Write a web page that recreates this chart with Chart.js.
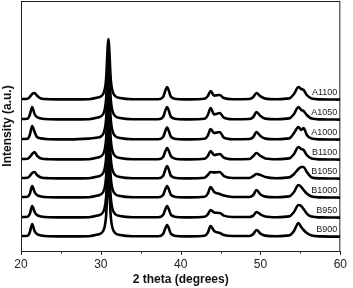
<!DOCTYPE html>
<html>
<head>
<meta charset="utf-8">
<script src="https://cdn.jsdelivr.net/npm/chart.js@4"></script>
<style>
  html, body { margin: 0; padding: 0; background: #fff; }
  #wrap { width: 353px; height: 288px; }
</style>
</head>
<body>
<div id="wrap"><canvas id="xrdChart" width="353" height="288"></canvas></div>
<script>

// 2 theta points (degrees) shared by every pattern
const twoTheta = [20, 20.8, 21.1, 21.4, 21.7, 22.0, 22.5, 23.5, 26, 28.5,
    29.6, 30.3, 30.65, 30.95, 31.25, 31.6, 32.4, 34, 37.2, 37.8,
    38.3, 38.8, 39.5, 41, 43.0, 43.4, 43.75, 44.2, 44.9, 45.4,
    46.5, 48.6, 49.1, 49.5, 50.0, 50.6, 52, 53.6, 54.2, 54.75,
    55.1, 55.4, 55.8, 56.4, 57.5, 60];

// sample names, top to bottom
const samples = ["A1100", "A1050", "A1000", "B1100", "B1050", "B1000", "B950", "B900"];

// vertical stacking offset of each pattern (a.u.)
const offsets = [7.55, 6.55, 5.55, 4.55, 3.6, 2.65, 1.65, 0.7];

// intensities (a.u.) above each pattern's own baseline
const A1100 = [0.05, 0.06, 0.15, 0.3, 0.35, 0.22, 0.08, 0.04, 0.03, 0.04,
    0.12, 0.3, 1.0, 3.05, 1.0, 0.3, 0.1, 0.04, 0.04, 0.15,
    0.65, 0.15, 0.05, 0.03, 0.06, 0.2, 0.45, 0.22, 0.25, 0.1,
    0.04, 0.05, 0.15, 0.35, 0.18, 0.07, 0.04, 0.08, 0.3, 0.65,
    0.55, 0.5, 0.25, 0.07, 0.03, 0.02];
const A1050 = [0.05, 0.06, 0.25, 0.65, 0.3, 0.15, 0.08, 0.04, 0.03, 0.04,
    0.12, 0.3, 1.0, 3.0, 1.0, 0.3, 0.1, 0.04, 0.04, 0.15,
    0.65, 0.15, 0.05, 0.03, 0.06, 0.25, 0.6, 0.28, 0.35, 0.12,
    0.04, 0.05, 0.15, 0.4, 0.2, 0.07, 0.04, 0.08, 0.3, 0.65,
    0.5, 0.45, 0.25, 0.07, 0.03, 0.02];
const A1000 = [0.05, 0.06, 0.25, 0.7, 0.4, 0.15, 0.08, 0.04, 0.03, 0.07,
    0.12, 0.3, 1.0, 3.0, 1.0, 0.3, 0.1, 0.04, 0.04, 0.15,
    0.62, 0.15, 0.05, 0.03, 0.06, 0.22, 0.55, 0.35, 0.4, 0.12,
    0.04, 0.05, 0.15, 0.4, 0.2, 0.07, 0.04, 0.08, 0.35, 0.65,
    0.5, 0.6, 0.25, 0.07, 0.03, 0.02];
const B1100 = [0.05, 0.06, 0.15, 0.3, 0.4, 0.22, 0.08, 0.04, 0.03, 0.04,
    0.12, 0.3, 1.0, 3.0, 1.0, 0.3, 0.1, 0.04, 0.04, 0.15,
    0.6, 0.18, 0.05, 0.03, 0.06, 0.2, 0.45, 0.25, 0.3, 0.12,
    0.04, 0.05, 0.2, 0.35, 0.2, 0.08, 0.04, 0.08, 0.3, 0.65,
    0.55, 0.5, 0.25, 0.07, 0.03, 0.02];
const B1050 = [0.05, 0.06, 0.15, 0.3, 0.35, 0.2, 0.08, 0.04, 0.03, 0.04,
    0.12, 0.3, 1.0, 3.0, 1.0, 0.3, 0.1, 0.04, 0.04, 0.15,
    0.65, 0.15, 0.05, 0.03, 0.06, 0.2, 0.35, 0.33, 0.35, 0.15,
    0.05, 0.05, 0.15, 0.25, 0.2, 0.1, 0.04, 0.08, 0.25, 0.5,
    0.6, 0.6, 0.35, 0.08, 0.03, 0.02];
const B1000 = [0.05, 0.06, 0.2, 0.6, 0.3, 0.15, 0.08, 0.04, 0.03, 0.04,
    0.12, 0.3, 1.0, 3.0, 1.0, 0.3, 0.1, 0.04, 0.04, 0.15,
    0.6, 0.15, 0.05, 0.03, 0.06, 0.22, 0.55, 0.3, 0.2, 0.12,
    0.05, 0.05, 0.15, 0.4, 0.18, 0.07, 0.04, 0.08, 0.3, 0.65,
    0.55, 0.4, 0.22, 0.07, 0.03, 0.02];
const B950 = [0.05, 0.06, 0.2, 0.6, 0.3, 0.15, 0.08, 0.04, 0.03, 0.04,
    0.12, 0.3, 1.0, 3.0, 1.0, 0.3, 0.1, 0.04, 0.04, 0.15,
    0.6, 0.15, 0.05, 0.03, 0.06, 0.18, 0.4, 0.28, 0.25, 0.12,
    0.05, 0.05, 0.12, 0.3, 0.18, 0.08, 0.04, 0.08, 0.3, 0.65,
    0.6, 0.45, 0.22, 0.07, 0.03, 0.02];
const B900 = [0.05, 0.06, 0.22, 0.65, 0.3, 0.15, 0.08, 0.04, 0.03, 0.04,
    0.12, 0.3, 1.0, 3.0, 1.0, 0.3, 0.1, 0.04, 0.04, 0.15,
    0.6, 0.15, 0.05, 0.03, 0.06, 0.22, 0.55, 0.3, 0.2, 0.1,
    0.05, 0.05, 0.15, 0.35, 0.17, 0.07, 0.04, 0.08, 0.3, 0.7,
    0.5, 0.35, 0.2, 0.07, 0.03, 0.02];

const patterns = [A1100, A1050, A1000, B1100, B1050, B1000, B950, B900];

const xTicks = [20, 30, 40, 50, 60];

const datasets = patterns.map((p, k) => ({
    label: samples[k],
    data: twoTheta.map((t, i) => ({ x: t, y: p[i] + offsets[k] })),
    borderColor: "#000",
    borderWidth: 2.6,
    pointRadius: 0,
    fill: false,
    cubicInterpolationMode: "monotone"
}));

// frame, outward ticks and sample names
const decor = {
    id: "decor",
    afterDatasetsDraw(chart) {
        const ctx = chart.ctx;
        const a = chart.chartArea;
        const xs = chart.scales.x;
        const ys = chart.scales.y;
        ctx.save();
        ctx.strokeStyle = "#222";
        ctx.lineWidth = 1;
        ctx.strokeRect(a.left + 0.5, a.top + 0.5, a.right - a.left - 1, a.bottom - a.top);
        ctx.beginPath();
        for (let v = 20; v <= 60; v += 5) {
            const px = Math.round(xs.getPixelForValue(v)) + 0.5;
            const len = v % 10 === 0 ? 4 : 2.5;
            ctx.moveTo(px, a.bottom);
            ctx.lineTo(px, a.bottom + len);
        }
        ctx.stroke();

        ctx.fillStyle = "#222";
        ctx.font = "9px 'Liberation Sans', Arial, sans-serif";
        ctx.textAlign = "right";
        ctx.textBaseline = "middle";
        samples.forEach((name, k) => {
            ctx.fillText(name, a.right - 3, ys.getPixelForValue(offsets[k] + 0.35));
        });
        ctx.restore();
    }
};

new Chart(document.getElementById("xrdChart"), {
    type: "line",
    data: { datasets: datasets },
    options: {
        responsive: false,
        animation: false,
        events: [],
        layout: { padding: { top: 1, right: 7, left: 0, bottom: 0 } },
        plugins: {
            legend: { display: false },
            tooltip: { enabled: false }
        },
        scales: {
            x: {
                type: "linear",
                min: 20,
                max: 60,
                afterFit: (s) => { s.height = 37; },
                afterBuildTicks: (s) => { s.ticks = xTicks.map(v => ({ value: v })); },
                grid: { display: false, drawTicks: false },
                border: { display: false },
                ticks: {
                    padding: 6,
                    color: "#222",
                    font: { family: "'Liberation Sans', Arial, sans-serif", size: 12 }
                },
                title: {
                    display: true,
                    text: "2 theta (degrees)",
                    color: "#111",
                    padding: { top: 0, bottom: 1 },
                    font: { family: "'Liberation Sans', Arial, sans-serif", size: 12, weight: "bold" }
                }
            },
            y: {
                type: "linear",
                min: 0,
                max: 12.5,
                afterFit: (s) => { s.width = 21; },
                grid: { display: false, drawTicks: false },
                border: { display: false },
                ticks: { display: false },
                title: {
                    display: true,
                    text: "Intensity (a.u.)",
                    color: "#111",
                    padding: { top: 0, bottom: 0 },
                    font: { family: "'Liberation Sans', Arial, sans-serif", size: 12, weight: "bold" }
                }
            }
        }
    },
    plugins: [decor]
});
</script>
</body>
</html>
